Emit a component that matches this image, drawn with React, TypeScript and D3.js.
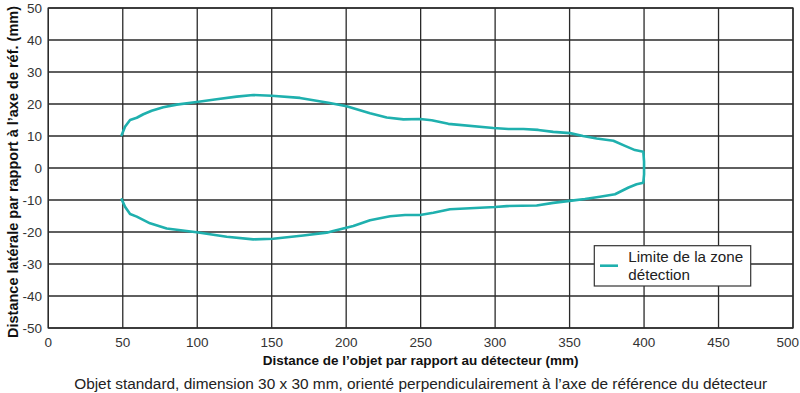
import React from "react";
import * as d3 from "d3";

const xTicks = [0, 50, 100, 150, 200, 250, 300, 350, 400, 450, 500];
const yTicks = [50, 40, 30, 20, 10, 0, -10, -20, -30, -40, -50];

// upper boundary [distance, lateral]
const upperBoundary: [number, number][] = [
  [49.3, 10.3], [51.5, 12.9], [54.9, 15.0], [59.4, 15.7], [63.8, 16.8], [69.4, 17.9],
  [77.2, 19.0], [86.2, 19.8], [99.6, 20.6], [113, 21.5], [126.5, 22.3], [137.6, 22.8],
  [150, 22.6], [169, 21.9], [188, 20.4], [200.3, 19.3], [216, 17.1], [227.2, 15.8],
  [238.4, 15.2], [249.6, 15.3], [257.4, 14.9], [268.6, 13.8], [298.8, 12.5], [308.9, 12.2],
  [319, 12.2], [329, 11.9], [339, 11.3], [350.3, 10.9], [359, 10.0], [368.2, 9.2],
  [379.4, 8.5], [387.2, 6.9], [393.9, 5.6], [399.5, 5.1], [400, 2], [400, -2],
];

const lowerBoundary: [number, number][] = [
  [399.5, -4.6], [395, -5.1], [389.6, -6.1], [380.5, -8.2], [370.4, -9.0], [360.3, -9.7],
  [351.4, -10.2], [339, -10.9], [327.9, -11.7], [317.8, -11.8], [307.8, -11.9], [299.9, -12.2],
  [269.7, -12.9], [258.5, -14.0], [249.6, -14.7], [239.5, -14.7], [229.5, -15.1], [222.7, -15.7],
  [216, -16.3], [204.8, -18.1], [191.3, -19.7], [186.9, -20.2], [171.2, -21.1], [151, -22.1],
  [137.6, -22.3], [119.8, -21.5], [99.6, -20.1], [79.5, -18.9], [68.3, -17.3], [59.4, -15.2],
  [54.9, -14.4], [51.5, -12.1], [49.3, -9.8],
];

const seriesName = ["Limite de la zone", "détection"];
const xTitle = "Distance de l\u2019objet par rapport au détecteur (mm)";
const yTitle = "Distance latérale par rapport à l\u2019axe de réf. (mm)";
const subtitle = "Objet standard, dimension 30 x 30 mm, orienté perpendiculairement à l\u2019axe de référence du détecteur";

const W = 800, H = 393;
const L = 48.3, R = 793, T = 8, B = 328;
const teal = "#1fb0ae";
const font = "'Liberation Sans', Arial, Helvetica, sans-serif";

export default function App() {
  const x = d3.scaleLinear().domain([0, 500]).range([L, R]);
  const y = d3.scaleLinear().domain([-50, 50]).range([B, T]);
  const line = d3.line<[number, number]>().x(d => x(d[0])).y(d => y(d[1])).curve(d3.curveLinear);
  const pts = [...upperBoundary, ...lowerBoundary];
  return (
    <svg width={W} height={H} style={{ position: "absolute", left: 0, top: 0, background: "#fff" }}>
      <rect x={0} y={0} width={W} height={H} fill="#fff" />
      {xTicks.map(t => (
        <line key={"gx" + t} x1={x(t)} x2={x(t)} y1={T} y2={B} stroke="#2a2a2a" strokeWidth={1.3} />
      ))}
      {yTicks.map(t => (
        <line key={"gy" + t} x1={L} x2={R} y1={y(t)} y2={y(t)} stroke="#2a2a2a" strokeWidth={1.3} />
      ))}
      <rect x={L} y={T} width={R - L} height={B - T} fill="none" stroke="#2a2a2a" strokeWidth={1.3} />
      {xTicks.map((t, i) => (
        <text key={"tx" + t} x={i === xTicks.length - 1 ? 799 : x(t)} y={347} textAnchor={i === xTicks.length - 1 ? "end" : "middle"} fontFamily={font} fontSize={13.5} fill="#333">{t}</text>
      ))}
      {yTicks.map(t => (
        <text key={"ty" + t} x={42} y={y(t) + 4.8} textAnchor="end" fontFamily={font} fontSize={13.5} fill="#333">{t}</text>
      ))}
      <path d={line(pts) || ""} fill="none" stroke={teal} strokeWidth={2.6} strokeLinejoin="round" strokeLinecap="round" />
      <text x={(L + R) / 2} y={365} textAnchor="middle" fontFamily={font} fontSize={13.5} fontWeight="bold" fill="#111">{xTitle}</text>
      <text x={(L + R) / 2} y={389} textAnchor="middle" fontFamily={font} fontSize={15.4} fill="#222">{subtitle}</text>
      <text transform={`translate(18,${(T + B) / 2 + 4}) rotate(-90)`} textAnchor="middle" fontFamily={font} fontSize={14.5} fontWeight="bold" fill="#111">{yTitle}</text>
      <g>
        <rect x={594.3} y={245.7} width={156.4} height={40.3} fill="#fff" stroke="#333" strokeWidth={1.2} />
        <line x1={600} x2={618} y1={265.7} y2={265.7} stroke={teal} strokeWidth={2.6} />
        <text x={628.3} y={261.5} fontFamily={font} fontSize={15.2} fill="#222">{seriesName[0]}</text>
        <text x={628.3} y={279.5} fontFamily={font} fontSize={15.2} fill="#222">{seriesName[1]}</text>
      </g>
    </svg>
  );
}
